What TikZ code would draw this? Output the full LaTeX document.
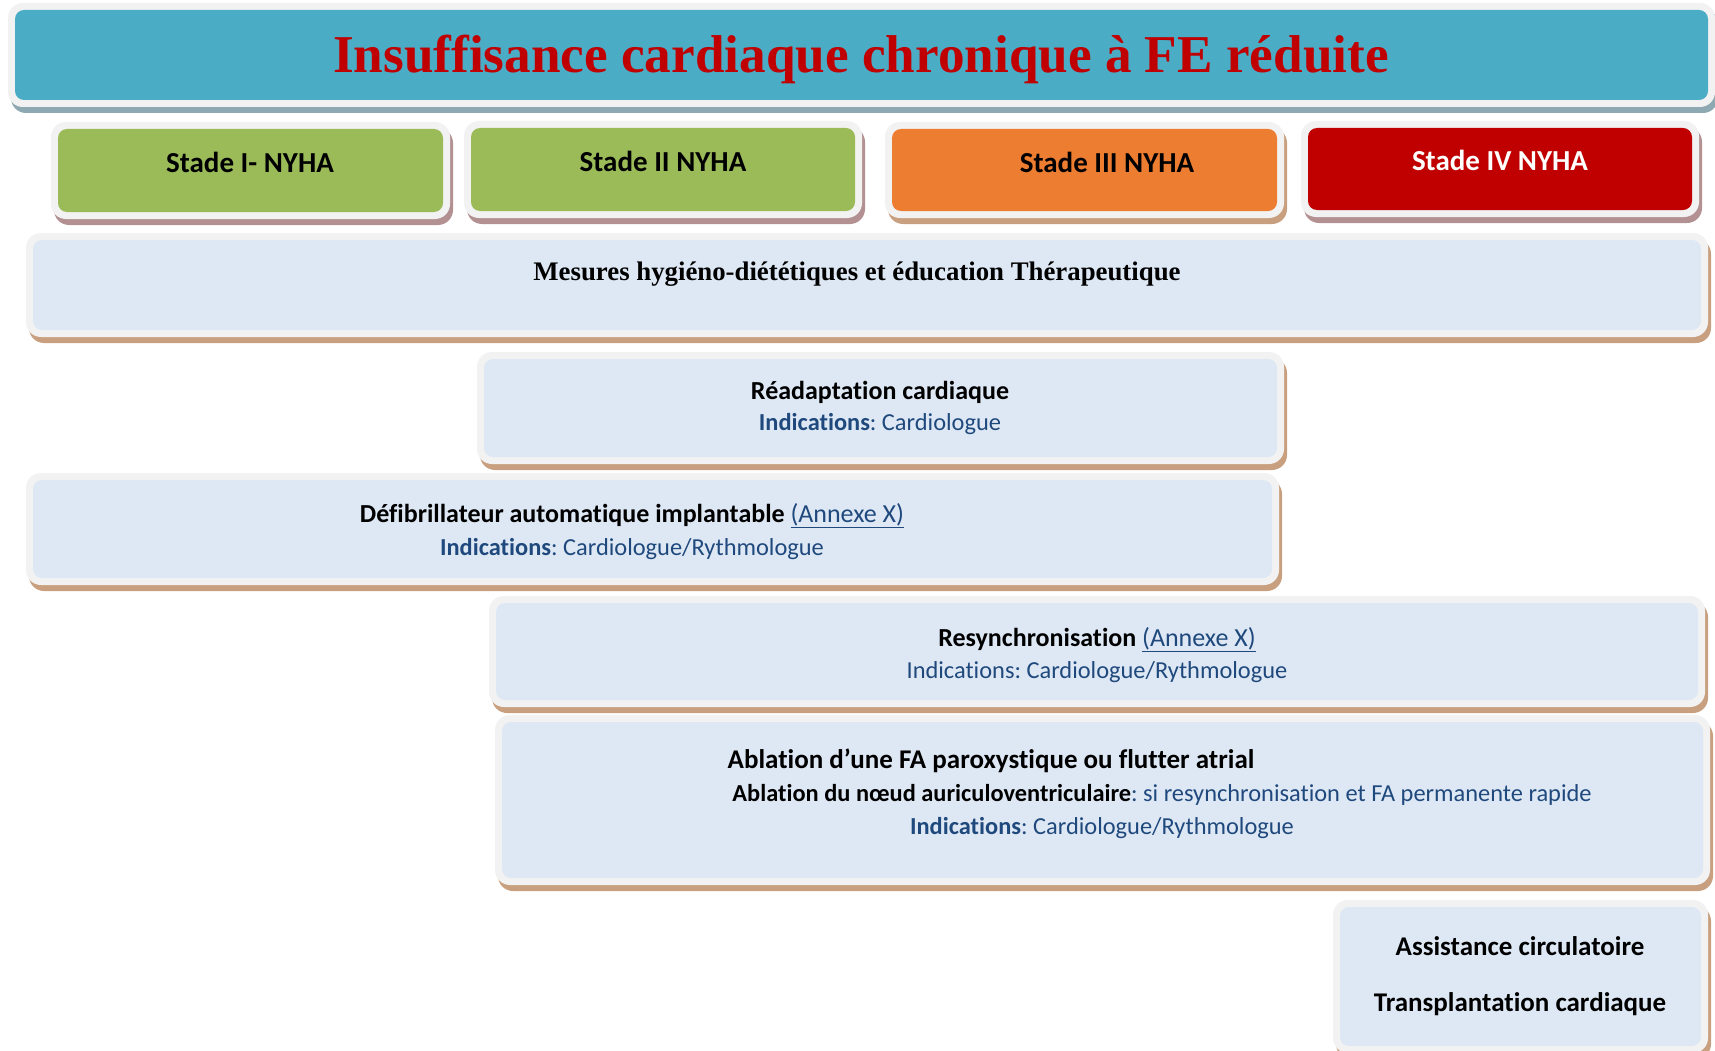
\documentclass[tikz,border=0pt]{standalone}
\usepackage{fontspec}
\setmainfont{Liberation Serif}
\newfontfamily\calib[Ligatures=NoCommon]{Carlito}
\frenchspacing
\definecolor{titleblue}{HTML}{4BACC6}
\definecolor{titlered}{HTML}{C00000}
\definecolor{framecol}{HTML}{F2F2F2}
\definecolor{boxfill}{HTML}{DEE8F4}
\definecolor{shtan}{HTML}{C9A07F}
\definecolor{shmauve}{HTML}{B39193}
\definecolor{shteal}{HTML}{8EA9B1}
\definecolor{sgreen}{HTML}{9BBB59}
\definecolor{sorange}{HTML}{ED7D31}
\definecolor{sred}{HTML}{C00000}
\definecolor{txtblue}{HTML}{1F497D}
\newcommand\panel[7]{%
  \fill[#7, rounded corners=15pt] (#2-7+3,#3-7+6) rectangle (#4+7+3,#5+7+6);
  \fill[framecol, rounded corners=15pt] (#2-7,#3-7) rectangle (#4+7,#5+7);
  \node[innerbox, fill=#6, minimum width={(#4-#2)*1pt}, minimum height={(#5-#3)*1pt}] (#1) at ({(#2+#4)/2},{(#3+#5)/2}) {};
}
\newcommand\bodyfont{\calib\fontsize{26}{31}\selectfont}
\newcommand\smallbody{\calib\fontsize{24.4}{29}\selectfont}
\begin{document}
\begin{tikzpicture}[x=1pt,y=-1pt,
  innerbox/.style={rectangle, rounded corners=9pt, inner sep=0pt, draw=none},
  txt/.style={anchor=base, inner sep=0pt, font=\bodyfont},
  stxt/.style={anchor=base, inner sep=0pt, font=\smallbody},
  stagetxt/.style={anchor=base, inner sep=0pt, font=\calib\fontsize{29}{34}\selectfont\bfseries}]
\useasboundingbox (0,0) rectangle (1715,1051);
\fill[white] (0,0) rectangle (1715,1051);
% title
\panel{title}{15}{10}{1708}{100}{titleblue}{shteal}
\node[anchor=base, inner sep=0pt, text=titlered, font=\fontsize{53.2}{60}\selectfont\bfseries] (ttl) at (861,73) {Insuffisance cardiaque chronique à FE réduite};
% stages
\panel{s1}{58}{129}{443}{212}{sgreen}{shmauve}
\panel{s2}{471}{128}{855}{211}{sgreen}{shmauve}
\panel{s3}{892}{129}{1277}{211}{sorange}{shtan}
\panel{s4}{1308}{128}{1692}{210}{sred}{shmauve}
\node[stagetxt] (s1t) at (250,173) {Stade I- NYHA};
\node[stagetxt] (s2t) at (663,172) {Stade II NYHA};
\node[stagetxt] (s3t) at (1107,173) {Stade III NYHA};
\node[stagetxt, text=white] (s4t) at (1500,171) {Stade IV NYHA};
% mesures
\panel{mesures}{33}{240}{1701}{330}{boxfill}{shtan}
\node[anchor=base, inner sep=0pt, font=\fontsize{26.8}{32}\selectfont\bfseries] (mest) at (857,280) {Mesures hygiéno-diététiques et éducation Thérapeutique};
% readaptation
\panel{readapt}{484}{359}{1277}{457}{boxfill}{shtan}
\node[txt, font=\bodyfont\bfseries] (ra1) at (880,399) {Réadaptation cardiaque};
\node[stxt, text=txtblue] (ra2) at (880,430) {\textbf{Indications}: Cardiologue};
% defibrillateur
\panel{defib}{33}{480}{1272}{578}{boxfill}{shtan}
\node[txt] (df1) at (632,522) {\textbf{Défibrillateur automatique implantable} \textcolor{txtblue}{\underline{(Annexe X)}}};
\node[stxt, text=txtblue] (df2) at (632,555) {\textbf{Indications}: Cardiologue/Rythmologue};
% resynchronisation
\panel{resync}{496}{603}{1698}{700}{boxfill}{shtan}
\node[txt] (rs1) at (1097,646) {\textbf{Resynchronisation} \textcolor{txtblue}{\underline{(Annexe X)}}};
\node[stxt, text=txtblue] (rs2) at (1097,678) {Indications: Cardiologue/Rythmologue};
% ablation
\panel{ablation}{502}{722}{1703}{878}{boxfill}{shtan}
\node[txt, font=\calib\fontsize{27}{32}\selectfont\bfseries] (ab1) at (991,768) {Ablation d’une FA paroxystique ou flutter atrial};
\node[stxt, text=txtblue] (ab2) at (1162,801) {\textcolor{black}{\textbf{Ablation du nœud auriculoventriculaire}}: si resynchronisation et FA permanente rapide};
\node[stxt, text=txtblue] (ab3) at (1102,834) {\textbf{Indications}: Cardiologue/Rythmologue};
% assistance
\panel{assist}{1340}{907}{1701}{1046}{boxfill}{shtan}
\node[txt, font=\calib\fontsize{27}{32}\selectfont\bfseries] (as1) at (1520,955) {Assistance circulatoire};
\node[txt, font=\calib\fontsize{27}{32}\selectfont\bfseries] (as2) at (1520,1011) {Transplantation cardiaque};
\end{tikzpicture}
\end{document}
